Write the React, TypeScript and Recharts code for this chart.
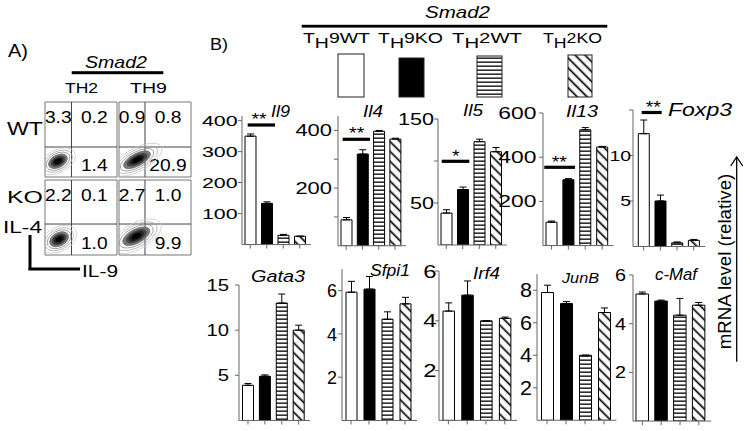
import React from 'react'
import {
  BarChart, Bar, Cell, XAxis, YAxis, ErrorBar,
  ScatterChart, Scatter, ReferenceLine, ReferenceArea,
} from 'recharts'

const GROUPS = ['TH9 WT', 'TH9 KO', 'TH2 WT', 'TH2 KO']

// relative mRNA level (mean) and upper error, in GROUPS order
const IL9 = [350, 133, 30, 27]
const IL9_ERR = [7, 5, 3, 0]
const IL4 = [90, 318, 397, 370]
const IL4_ERR = [8, 15, 3, 3]
const IL5 = [38, 66, 123, 111]
const IL5_ERR = [4, 3, 3, 5]
const IL13 = [106, 298, 524, 446]
const IL13_ERR = [5, 5, 10, 3]
const FOXP3 = [12.4, 5.0, 0.4, 0.68]
const FOXP3_ERR = [1.5, 0.65, 0.1, 0.1]
const GATA3 = [3.9, 4.9, 13.0, 10.0]
const GATA3_ERR = [0.2, 0.15, 1.0, 0.55]
const SFPI1 = [5.93, 6.07, 4.68, 5.39]
const SFPI1_ERR = [0.5, 0.58, 0.34, 0.3]
const IRF4 = [4.39, 5.03, 4.0, 4.1]
const IRF4_ERR = [0.33, 0.57, 0, 0.05]
const JUNB = [7.86, 7.18, 4.0, 6.63]
const JUNB_ERR = [0.45, 0.12, 0, 0.28]
const CMAF = [5.22, 4.93, 4.35, 4.76]
const CMAF_ERR = [0.08, 0.04, 0.69, 0.11]

// axis domain max, tick marks and which ticks get a number
const GENES = [
  { name: 'Il9', values: IL9, errs: IL9_ERR, max: 415, ticks: [100, 200, 300, 400], shown: [100, 200, 300, 400], sig: '**' },
  { name: 'Il4', values: IL4, errs: IL4_ERR, max: 450, ticks: [100, 200, 300, 400], shown: [200, 400], sig: '**' },
  { name: 'Il5', values: IL5, errs: IL5_ERR, max: 150, ticks: [50, 100, 150], shown: [50, 150], sig: '*' },
  { name: 'Il13', values: IL13, errs: IL13_ERR, max: 600, ticks: [200, 400, 600], shown: [200, 400, 600], sig: '**' },
  { name: 'Foxp3', values: FOXP3, errs: FOXP3_ERR, max: 15, ticks: [5, 10, 15], shown: [5, 10], sig: '**' },
  { name: 'Gata3', values: GATA3, errs: GATA3_ERR, max: 15, ticks: [5, 10, 15], shown: [5, 10, 15], sig: '' },
  { name: 'Sfpi1', values: SFPI1, errs: SFPI1_ERR, max: 7, ticks: [2, 4, 6], shown: [2, 4, 6], sig: '' },
  { name: 'Irf4', values: IRF4, errs: IRF4_ERR, max: 6, ticks: [2, 4, 6], shown: [2, 4, 6], sig: '' },
  { name: 'JunB', values: JUNB, errs: JUNB_ERR, max: 9, ticks: [2, 4, 6, 8], shown: [2, 4, 6, 8], sig: '' },
  { name: 'c-Maf', values: CMAF, errs: CMAF_ERR, max: 6, ticks: [2, 4, 6], shown: [2, 4, 6], sig: '' },
]

// flow cytometry quadrant percentages (TH2 WT, TH9 WT, TH2 KO, TH9 KO)
const FLOW_TITLES = ['TH2', 'TH9']
const FLOW_ROWS = ['WT', 'KO']
const FLOW_UL = [3.3, 0.9, 2.2, 2.7]
const FLOW_UR = [0.2, 0.8, 0.1, 1.0]
const FLOW_LR = [1.4, 20.9, 1.0, 9.9]
const FLOW_GATE_X = [36.8, 36.1, 36.8, 36.1]
const FLOW_GATE_Y = [40, 40, 41.3, 41.3]
const FLOW_CENTER = [[18, 21], [25, 23], [19.5, 21], [24, 25]]

// ---------- layout (pixels) ----------
const LAYOUT = [
  { axisX: 242, y0: 245, yTop: 116.4, band: 16.5, pad: 0, bar: 11, fs: 15.5, charW: 11.9, gap: 4.4 },
  { axisX: 338, y0: 246, yTop: 116.2, band: 16.3, pad: 0, bar: 11, fs: 16, charW: 12.2, gap: 6 },
  { axisX: 438.3, y0: 245.3, yTop: 119.3, band: 16.5, pad: 0, bar: 11, fs: 16, charW: 12, gap: 4 },
  { axisX: 543.3, y0: 245.2, yTop: 112.6, band: 16.9, pad: 0, bar: 11, fs: 16, charW: 12.7, gap: 6.6 },
  { axisX: 633.3, y0: 246.5, yTop: 110, band: 16.7, pad: 2.3, bar: 11, fs: 15, charW: 10.8, gap: 2 },
  { axisX: 239.3, y0: 420.5, yTop: 285, band: 16.9, pad: 0.5, bar: 11, fs: 16.3, charW: 11.3, gap: 10 },
  { axisX: 341.7, y0: 420.7, yTop: 269.2, band: 18, pad: 0, bar: 11, fs: 18.6, charW: 10, gap: 5 },
  { axisX: 439, y0: 420.3, yTop: 270.9, band: 18.8, pad: 0, bar: 11.5, fs: 18.6, charW: 13.3, gap: 2.5 },
  { axisX: 536.7, y0: 420, yTop: 273.75, band: 19, pad: 0.5, bar: 12, fs: 19.5, charW: 12, gap: 5 },
  { axisX: 633.3, y0: 421, yTop: 274.9, band: 18.8, pad: 0, bar: 12.5, fs: 16.3, charW: 11, gap: 7 },
]
// gene name: x, baseline, width, font size
const GENE_LABEL = [
  [271, 117, 19, 16.3], [363, 117, 20, 16.3], [463, 116, 20, 16.3], [566, 117, 32, 16.3], [668, 116, 64, 17.7],
  [251, 282, 54, 16.3], [370, 276, 40, 16.5], [473, 279, 27, 16.3], [562, 283, 37, 15], [655, 280, 42, 16.3],
]
// significance bar: x1, x2, y, star center x, star center y
const SIG_POS = [
  [247.7, 275, 125, 259, 115.5],
  [342.7, 370, 139.3, 356.7, 130],
  [441.7, 469.3, 161.3, 455.7, 152.5],
  [544.3, 575, 167.3, 559.3, 159],
  [641.7, 661.7, 112.5, 653.3, 104],
]
const LEGEND_TEXT = [[303, 67], [378, 65], [452, 70], [543, 59]]
const LEGEND_BOX = [[338, 54, 26, 43], [399, 58, 25, 39], [477, 56, 25, 41], [568, 55, 24, 42]]
const FLOW_BOX = [[45, 102], [119, 102], [45, 180], [119, 180]]
const FLOW_BLOB = [[13, 8], [19, 8], [13, 8.5], [19, 9]]

const FILLS = ['#fff', '#000', 'url(#hstripe)', 'url(#dstripe)']
const AXIS = '#666'
const FONT = "'Liberation Sans', Arial, Helvetica, sans-serif"

const EmptyTick = () => <g />

function GeneChart({ gene, lay }: any) {
  const data = GROUPS.map((g, i) => ({ group: g, value: gene.values[i], err: [0, gene.errs[i]] }))
  const YW = 60
  const TOPM = 12
  const XH = 8
  const padR = 3
  const plotW = lay.pad + padR + 4 * lay.band
  const plotH = lay.y0 - lay.yTop
  const width = YW + plotW + 2
  const height = plotH + TOPM + XH
  const renderTick = (p: any) => {
    const v = p.payload.value
    if (!gene.shown.includes(v)) return <g />
    const s = String(v)
    return (
      <text x={p.x} y={p.y} dy={lay.fs * 0.36} textAnchor="end" fontSize={lay.fs} fill="#000"
        textLength={s.length * lay.charW} lengthAdjust="spacingAndGlyphs">{s}</text>
    )
  }
  return (
    <div style={{ position: 'absolute', left: lay.axisX - YW, top: lay.yTop - TOPM, width, height }}>
      <BarChart width={width} height={height} data={data} margin={{ top: TOPM, right: 2, bottom: 0, left: 0 }}>
        <XAxis dataKey="group" type="category" height={XH} padding={{ left: lay.pad, right: padR }}
          tickSize={4} tick={EmptyTick} stroke={AXIS} interval={0} />
        <YAxis type="number" width={YW} domain={[0, gene.max]} ticks={gene.ticks} interval={0} allowDataOverflow
          tickSize={4} tickMargin={lay.gap - 4} stroke={AXIS} tick={renderTick} />
        <Bar dataKey="value" barSize={lay.bar} isAnimationActive={false} stroke="#000" strokeWidth={1}>
          {data.map((d, i) => <Cell key={d.group} fill={FILLS[i]} />)}
          <ErrorBar dataKey="err" width={3.5} stroke="#000" strokeWidth={1} direction="y" />
        </Bar>
      </BarChart>
    </div>
  )
}

function Contour(p: any) {
  const { cx, cy, rx, ry } = p
  const levels = [1.45, 1.2, 0.98, 0.78, 0.6, 0.44, 0.28]
  const fills = ['none', 'none', 'none', '#777', '#444', '#222', '#000']
  const strokes = ['#c8c8c8', '#aaa', '#888', '#666', 'none', 'none', 'none']
  return (
    <g transform={`rotate(-28 ${cx} ${cy})`}>
      {levels.map((k, j) => (
        <ellipse key={j} cx={cx} cy={cy} rx={rx * k} ry={ry * k} fill={fills[j]} stroke={strokes[j]} strokeWidth={0.7} />
      ))}
    </g>
  )
}

function quadLabel(value: number, top: boolean) {
  return (p: any) => {
    const { x, y, width, height } = p.viewBox
    const cx = x + width / 2
    const by = top ? y + 20.5 : y + height - 6
    return (
      <text transform={`translate(${cx},${by}) scale(1.2,1)`} textAnchor="middle" fontSize={16} fill="#000">
        {value.toFixed(1)}
      </text>
    )
  }
}

function FlowBox({ i }: any) {
  const W = 72
  const H = 75
  const [bx, by] = FLOW_BOX[i]
  const gx = FLOW_GATE_X[i]
  const gy = FLOW_GATE_Y[i]
  const [fx, fy] = FLOW_CENTER[i]
  const [rx, ry] = FLOW_BLOB[i]
  return (
    <div style={{ position: 'absolute', left: bx - 1, top: by - 1, width: W + 2, height: H + 2 }}>
      <ScatterChart width={W + 2} height={H + 2} margin={{ top: 1, right: 1, bottom: 1, left: 1 }}>
        <XAxis type="number" dataKey="x" domain={[0, 100]} hide allowDataOverflow />
        <YAxis type="number" dataKey="y" domain={[0, 100]} hide allowDataOverflow />
        <Scatter data={[{ x: fx, y: fy }]} isAnimationActive={false}
          shape={(p: any) => <Contour cx={p.cx} cy={p.cy} rx={rx} ry={ry} />} />
        <ReferenceArea x1={0} x2={100} y1={0} y2={100} fill="none" stroke="#777" strokeWidth={1} fillOpacity={0} />
        <ReferenceLine x={gx} stroke="#444" strokeWidth={1} />
        <ReferenceLine y={gy} stroke="#444" strokeWidth={1} />
        <ReferenceArea x1={0} x2={gx} y1={gy} y2={100} fillOpacity={0} stroke="none" label={quadLabel(FLOW_UL[i], true)} />
        <ReferenceArea x1={gx} x2={100} y1={gy} y2={100} fillOpacity={0} stroke="none" label={quadLabel(FLOW_UR[i], true)} />
        <ReferenceArea x1={gx} x2={100} y1={0} y2={gy} fillOpacity={0} stroke="none" label={quadLabel(FLOW_LR[i], false)} />
      </ScatterChart>
    </div>
  )
}

function Txt({ x, y, w, fs, italic, anchor, children }: any) {
  return (
    <text x={x} y={y} fontSize={fs} fontStyle={italic ? 'italic' : 'normal'} textAnchor={anchor || 'start'}
      textLength={w} lengthAdjust="spacingAndGlyphs" fill="#000">{children}</text>
  )
}

function Overlay() {
  return (
    <svg width={750} height={431} style={{ position: 'absolute', left: 0, top: 0, pointerEvents: 'none' }}>
      <defs>
        <pattern id="hstripe" patternUnits="userSpaceOnUse" width={4} height={4}>
          <rect width={4} height={4} fill="#fff" />
          <rect y={1.5} width={4} height={1.3} fill="#000" />
        </pattern>
        <pattern id="dstripe" patternUnits="userSpaceOnUse" width={7} height={7} patternTransform="rotate(45)">
          <rect width={7} height={7} fill="#fff" />
          <rect y={2.5} width={7} height={1.7} fill="#000" />
        </pattern>
      </defs>

      {/* panel A */}
      <Txt x={8} y={56.5} w={20} fs={18}>A)</Txt>
      <Txt x={85} y={68} w={62} fs={17} italic>Smad2</Txt>
      <rect x={71.7} y={71.2} width={91.6} height={3} fill="#000" />
      <Txt x={65} y={93} w={33} fs={14.5}>{FLOW_TITLES[0]}</Txt>
      <Txt x={130} y={93} w={37} fs={14.5}>{FLOW_TITLES[1]}</Txt>
      <Txt x={7} y={135} w={36} fs={17.7}>{FLOW_ROWS[0]}</Txt>
      <Txt x={7} y={203.3} w={36} fs={16.5}>{FLOW_ROWS[1]}</Txt>
      <Txt x={3} y={232.7} w={39} fs={17}>IL-4</Txt>
      <Txt x={82} y={276.7} w={36} fs={17}>IL-9</Txt>
      <rect x={28.5} y={235} width={3} height={35} fill="#000" />
      <rect x={28.5} y={267.5} width={51.5} height={3} fill="#000" />

      {/* panel B header */}
      <Txt x={210} y={50} w={18} fs={17}>B)</Txt>
      <Txt x={425} y={18.3} w={65} fs={16.5} italic>Smad2</Txt>
      <rect x={301.7} y={24.8} width={305.6} height={2.8} fill="#000" />
      {GROUPS.map((g, i) => (
        <text key={g} x={LEGEND_TEXT[i][0]} y={43} fontSize={15.5} textLength={LEGEND_TEXT[i][1]}
          lengthAdjust="spacingAndGlyphs" fill="#000">
          {g[0]}<tspan dy={5}>{g[1]}</tspan><tspan dy={-5}>{g.slice(2).replace(' ', '')}</tspan>
        </text>
      ))}
      {LEGEND_BOX.map(([x, y, w, h], i) => (
        <rect key={i} x={x} y={y} width={w} height={h} fill={FILLS[i]} stroke="#222" strokeWidth={1} />
      ))}

      {/* gene labels */}
      {GENES.map((g, i) => {
        const [x, y, w, fs] = GENE_LABEL[i]
        return <Txt key={g.name} x={x} y={y} w={w} fs={fs} italic>{g.name}</Txt>
      })}

      {/* significance */}
      {GENES.map((g, i) => {
        if (!g.sig) return null
        const [x1, x2, y, sx, sy] = SIG_POS[i]
        return (
          <g key={g.name}>
            <rect x={x1} y={y - 1.6} width={x2 - x1} height={3.2} fill="#000" />
            <text x={sx} y={sy + 9.2} fontSize={16} textAnchor="middle" textLength={g.sig.length * 7.6}
              lengthAdjust="spacingAndGlyphs" fill="#000">{g.sig}</text>
          </g>
        )
      })}

      {/* y title */}
      <text x={731} y={261.5} transform="rotate(-90 731 261.5)" fontSize={18.7} textAnchor="middle" fill="#000">
        mRNA level (relative)
      </text>
      <line x1={736.7} y1={361.7} x2={736.7} y2={157.5} stroke="#000" strokeWidth={1.3} />
      <polyline points="730.7,166 736.7,157 742.7,166" fill="none" stroke="#000" strokeWidth={1.3} />
    </svg>
  )
}

export default function App() {
  return (
    <div style={{ position: 'absolute', left: 0, top: 0, width: 750, height: 431, background: '#fff', overflow: 'hidden', fontFamily: FONT }}>
      {GENES.map((g, i) => <GeneChart key={g.name} gene={g} lay={LAYOUT[i]} />)}
      {FLOW_BOX.map((_, i) => <FlowBox key={i} i={i} />)}
      <Overlay />
    </div>
  )
}
